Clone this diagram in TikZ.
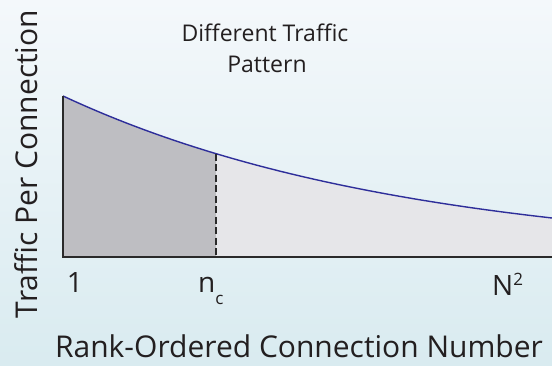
\documentclass[tikz,border=0pt]{standalone}
\usepackage{fontspec}
\setmainfont{Open Sans}
\definecolor{bgtop}{HTML}{F4F8FB}
\definecolor{bgbot}{HTML}{D9EBF0}
\definecolor{darkfill}{HTML}{BEBEC2}
\definecolor{lightfill}{HTML}{E6E6E9}
\definecolor{curveblue}{HTML}{2E2E9A}
\definecolor{axisgray}{HTML}{2A2A2A}
\definecolor{txt}{HTML}{231F20}
\begin{document}
\begin{tikzpicture}[x=1pt,y=-1pt,
  axisline/.style={draw=axisgray,line width=1.6pt},
  curveline/.style={draw=curveblue,line width=1.4pt},
  dashline/.style={draw=axisgray,line width=1.2pt,dash pattern=on 7pt off 3.5pt},
  lbl/.style={text=txt,inner sep=0pt,anchor=base},
  big/.style={lbl,font=\fontsize{30}{36}\selectfont},
  tick/.style={lbl,font=\fontsize{28}{34}\selectfont},
  mid/.style={lbl,font=\fontsize{23}{29}\selectfont}]
\shade[top color=bgtop,bottom color=bgbot] (0,0) rectangle (552,366);
\useasboundingbox (0,0) rectangle (552,366);
\coordinate (O) at (63,257);
\coordinate (T) at (63,96);
\coordinate (E) at (552,257);
\coordinate (C) at (216,257);
\coordinate (CT) at (216,{257-161*exp(-0.0029*(216-63))});
% fills
\fill[darkfill] (O) -- plot[domain=63:216,samples=40] (\x,{257-161*exp(-0.0029*(\x-63))}) -- (C) -- cycle;
\fill[lightfill] (C) -- plot[domain=216:552,samples=60] (\x,{257-161*exp(-0.0029*(\x-63))}) -- (E) -- cycle;
% curve
\draw[curveline] plot[domain=63:552,samples=100] (\x,{257-161*exp(-0.0029*(\x-63))});
% dashed divider
\draw[dashline] (CT) -- (C);
% axes
\draw[axisline] (T) -- (O) -- (E);
% labels
\node[tick] (one) at (75,293) {1};
\node[tick,anchor=base west] (nc) at (198,293) {n\raisebox{-0.42em}{\fontsize{17}{20}\selectfont c}};
\node[tick,anchor=base west] (n2) at (492,296) {N\raisebox{0.38em}{\fontsize{17}{20}\selectfont 2}};
\node[big] (xl) at (299,357) {Rank-Ordered Connection Number};
\node[big,rotate=90] (yl) at (37,164) {Traffic Per Connection};
\node[mid] (t1) at (265,42) {Different Traffic};
\node[mid] (t2) at (267,73) {Pattern};
\end{tikzpicture}
\end{document}
